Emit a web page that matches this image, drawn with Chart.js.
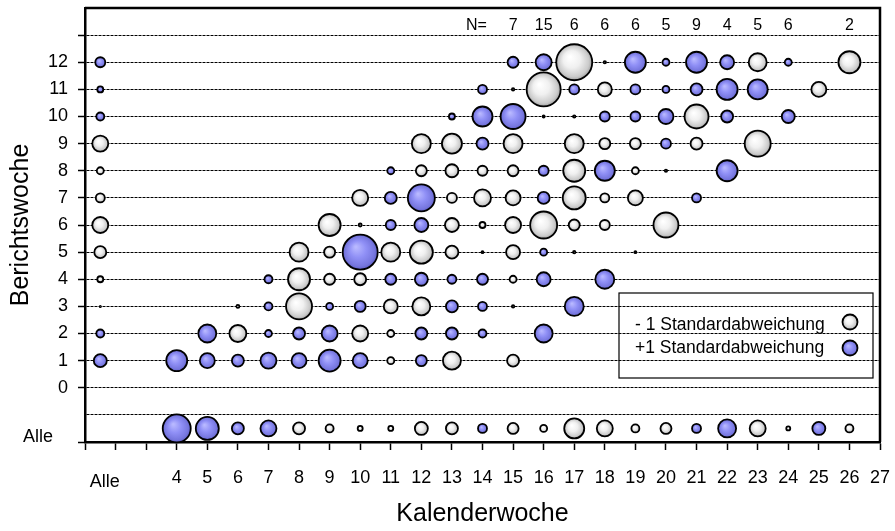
<!DOCTYPE html>
<html>
<head>
<meta charset="utf-8">
<script src="https://cdn.jsdelivr.net/npm/chart.js@4.4.1/dist/chart.umd.min.js"></script>
<style>
  html, body { margin: 0; padding: 0; background: #fff; }
</style>
</head>
<body>
<canvas id="chart" width="895" height="531"></canvas>
<script>
// [kalenderwoche, berichtswoche, radius]; x 1.5 = "Alle" column, y -1.5 = "Alle" row
const minusSD = [
  [1.5, 9, 8], [1.5, 8, 3.5], [1.5, 7, 4.5], [1.5, 6, 8], [1.5, 5, 6], [1.5, 4, 3], [1.5, 3, 0.6],
  [17, 12, 18], [18, 12, 1.2], [23, 12, 9], [26, 12, 11],
  [15, 11, 1.2], [16, 11, 17], [18, 11, 7], [25, 11, 7.5],
  [16, 10, 1], [17, 10, 1.2], [21, 10, 12],
  [12, 9, 9.5], [13, 9, 10], [15, 9, 9.5], [17, 9, 9.5], [18, 9, 5.5], [19, 9, 5.5], [21, 9, 6], [23, 9, 13],
  [12, 8, 5.5], [13, 8, 6.5], [14, 8, 5], [15, 8, 5.5], [17, 8, 11], [19, 8, 3.5], [20, 8, 1.2],
  [10, 7, 8], [13, 7, 5], [14, 7, 8.5], [15, 7, 7.5], [17, 7, 11.5], [18, 7, 4.5], [19, 7, 7.5],
  [9, 6, 11], [10, 6, 1.5], [13, 6, 7], [14, 6, 3], [15, 6, 8], [16, 6, 13.5], [17, 6, 5.5], [18, 6, 5], [20, 6, 12.5],
  [8, 5, 9.5], [9, 5, 5.5], [11, 5, 9.5], [12, 5, 11.5], [13, 5, 6.5], [14, 5, 1], [15, 5, 7], [17, 5, 1.2], [19, 5, 1],
  [8, 4, 11], [9, 4, 5.5], [10, 4, 6], [15, 4, 3.5],
  [6, 3, 1.5], [8, 3, 13], [11, 3, 7], [12, 3, 9], [15, 3, 1.2],
  [6, 2, 8.5], [10, 2, 8], [11, 2, 3.5],
  [11, 1, 3.5], [13, 1, 9], [15, 1, 6],
  [8, -1.5, 6], [9, -1.5, 4], [10, -1.5, 2.5], [11, -1.5, 2.5], [12, -1.5, 6.5], [13, -1.5, 6], [15, -1.5, 5.5],
  [16, -1.5, 3.5], [17, -1.5, 10], [18, -1.5, 8], [19, -1.5, 4], [20, -1.5, 5.5], [23, -1.5, 8], [24, -1.5, 2], [26, -1.5, 4]
];
const plusSD = [
  [1.5, 12, 5], [1.5, 11, 3], [1.5, 10, 4], [1.5, 2, 4], [1.5, 1, 6.5],
  [15, 12, 5.5], [16, 12, 8], [19, 12, 10.5], [20, 12, 3.5], [21, 12, 10.5], [22, 12, 7], [24, 12, 3.5],
  [14, 11, 4.5], [17, 11, 5], [19, 11, 5], [20, 11, 3.5], [21, 11, 6], [22, 11, 10.5], [23, 11, 10],
  [13, 10, 3], [14, 10, 10], [15, 10, 12.5], [18, 10, 5], [19, 10, 5], [20, 10, 7.5], [22, 10, 6], [24, 10, 6.5],
  [14, 9, 6], [20, 9, 5],
  [11, 8, 3.5], [16, 8, 5], [18, 8, 10], [22, 8, 10.5],
  [11, 7, 6], [12, 7, 13.5], [16, 7, 6], [21, 7, 4.5],
  [11, 6, 5], [12, 6, 7],
  [10, 5, 17.5], [16, 5, 3.5],
  [7, 4, 4], [11, 4, 5.5], [12, 4, 6.5], [13, 4, 4.5], [14, 4, 5.5], [16, 4, 7], [18, 4, 9.5],
  [7, 3, 4], [9, 3, 3.5], [10, 3, 5.5], [13, 3, 6], [14, 3, 4.5], [17, 3, 9.5],
  [5, 2, 9], [7, 2, 3.5], [8, 2, 6], [9, 2, 8], [12, 2, 6], [13, 2, 6], [14, 2, 4], [16, 2, 9],
  [4, 1, 10.5], [5, 1, 7.5], [6, 1, 6], [7, 1, 8], [8, 1, 7.5], [9, 1, 11], [10, 1, 7.5], [12, 1, 5.5],
  [4, -1.5, 14], [5, -1.5, 11.5], [6, -1.5, 6], [7, -1.5, 8], [14, -1.5, 4.5], [21, -1.5, 4.5], [22, -1.5, 9], [25, -1.5, 6.5]
];
const nWeeks = [15, 16, 17, 18, 19, 20, 21, 22, 23, 24, 26];
const nCounts = ['7', '15', '6', '6', '6', '5', '9', '4', '5', '6', '2'];
const legendLabels = ['- 1 Standardabweichung', '+1 Standardabweichung'];
const firstLabeledWeek = 4;
const lastBerichtswoche = 12;

Chart.defaults.font.family = '"Liberation Sans", Arial, sans-serif';
Chart.defaults.color = '#000';

function bubbleFill(ctx, x, y, r, blue) {
  const g = ctx.createRadialGradient(x - r * 0.25, y - r * 0.3, r * 0.05, x, y, r);
  if (blue) {
    g.addColorStop(0, '#b8b8ff');
    g.addColorStop(0.45, '#9090f6');
    g.addColorStop(0.85, '#7676de');
    g.addColorStop(1, '#5e5ec4');
  } else {
    g.addColorStop(0, '#ffffff');
    g.addColorStop(0.45, '#f0f0f0');
    g.addColorStop(0.85, '#cacaca');
    g.addColorStop(1, '#a0a0a0');
  }
  return g;
}

function fillFor(blue) {
  const flat = blue ? '#8c8cf0' : '#e8e8e8';
  return (c) => {
    if (c.type !== 'data' || !c.raw) return flat;
    const { x, y } = c.chart.scales;
    if (!x || !y) return flat;
    const px = x.getPixelForValue(c.raw.x);
    const py = y.getPixelForValue(c.raw.y);
    if (!isFinite(px) || !isFinite(py)) return flat;
    return bubbleFill(c.chart.ctx, px, py, c.raw.r, blue);
  };
}

const extras = {
  id: 'extras',
  afterDraw(chart) {
    const { ctx, chartArea: a, scales } = chart;
    ctx.save();
    // top / right frame
    ctx.strokeStyle = '#000';
    ctx.lineWidth = 2.5;
    ctx.beginPath();
    ctx.moveTo(a.left, a.top);
    ctx.lineTo(a.right, a.top);
    ctx.lineTo(a.right, a.bottom);
    ctx.stroke();

    // N= counts
    ctx.fillStyle = '#000';
    ctx.font = '16px "Liberation Sans", Arial, sans-serif';
    ctx.textAlign = 'center';
    ctx.textBaseline = 'middle';
    ctx.fillText('N=', scales.x.getPixelForValue(13.8), a.top + 18);
    nWeeks.forEach((w, i) => ctx.fillText(nCounts[i], scales.x.getPixelForValue(w), a.top + 18));

    // "Alle" category labels
    ctx.font = '18px "Liberation Sans", Arial, sans-serif';
    ctx.fillText('Alle', 38, a.bottom - 5);
    ctx.fillText('Alle', scales.x.getPixelForValue(1.65), a.bottom + 40);

    // legend box
    const bx = a.right - 261, by = a.top + 285;
    ctx.lineWidth = 1.2;
    ctx.strokeRect(bx, by, 254, 85);
    ctx.font = '17.5px "Liberation Sans", Arial, sans-serif';
    ctx.textAlign = 'left';
    ctx.fillText(legendLabels[0], bx + 16, by + 32);
    ctx.fillText(legendLabels[1], bx + 16, by + 55);
    [[by + 29, false], [by + 55, true]].forEach(([yy, blue]) => {
      ctx.beginPath();
      ctx.arc(bx + 231, yy, 7.5, 0, Math.PI * 2);
      ctx.fillStyle = bubbleFill(ctx, bx + 231, yy, 7.5, blue);
      ctx.fill();
      ctx.lineWidth = 1.8;
      ctx.stroke();
    });
    ctx.restore();
  }
};

const toPoints = (arr) => arr.map(([x, y, r]) => ({ x, y, r }));

new Chart(document.getElementById('chart'), {
  type: 'bubble',
  data: {
    datasets: [
      { label: legendLabels[0], data: toPoints(minusSD), backgroundColor: fillFor(false), borderColor: '#000', borderWidth: 1.8 },
      { label: legendLabels[1], data: toPoints(plusSD), backgroundColor: fillFor(true), borderColor: '#000', borderWidth: 1.8 }
    ]
  },
  options: {
    responsive: false,
    animation: false,
    events: [],
    clip: false,
    layout: { autoPadding: false, padding: { top: 8, right: 15, left: 0, bottom: 0 } },
    plugins: { legend: { display: false }, tooltip: { enabled: false } },
    scales: {
      x: {
        type: 'linear',
        min: 1,
        max: 27,
        afterFit: (s) => { s.height = 89; s.paddingLeft = 0; s.paddingRight = 0; },
        border: { display: true, color: '#000', width: 2.5 },
        grid: { drawOnChartArea: false, drawTicks: true, tickLength: 8, tickColor: '#000', tickWidth: 1.5 },
        ticks: {
          stepSize: 1,
          autoSkip: false,
          maxRotation: 0,
          padding: 17,
          font: { size: 18 },
          callback: (v) => (v >= firstLabeledWeek ? String(v) : '')
        },
        title: { display: true, text: 'Kalenderwoche', font: { size: 25 }, padding: { top: 0, bottom: 2 } }
      },
      y: {
        type: 'linear',
        min: -2,
        max: 14,
        afterFit: (s) => { s.width = 85; s.paddingTop = 0; s.paddingBottom = 0; },
        border: { display: true, color: '#000', width: 2.5, dash: [3, 1] },
        grid: {
          color: (c) => (c.tick && c.tick.value >= -1 && c.tick.value <= 13 ? '#000' : 'rgba(0,0,0,0)'),
          tickColor: (c) => (c.tick && c.tick.value !== -1 && c.tick.value < 14 ? '#000' : 'rgba(0,0,0,0)'),
          lineWidth: 1,
          tickLength: 7,
          tickWidth: 1.5,
          tickBorderDash: []
        },
        ticks: {
          stepSize: 1,
          autoSkip: false,
          padding: 10,
          font: { size: 18 },
          callback: (v) => (v >= 0 && v <= lastBerichtswoche ? String(v) : '')
        },
        title: { display: true, text: 'Berichtswoche', font: { size: 25 }, padding: { top: 6, bottom: 0 } }
      }
    }
  },
  plugins: [extras]
});
</script>
</body>
</html>
